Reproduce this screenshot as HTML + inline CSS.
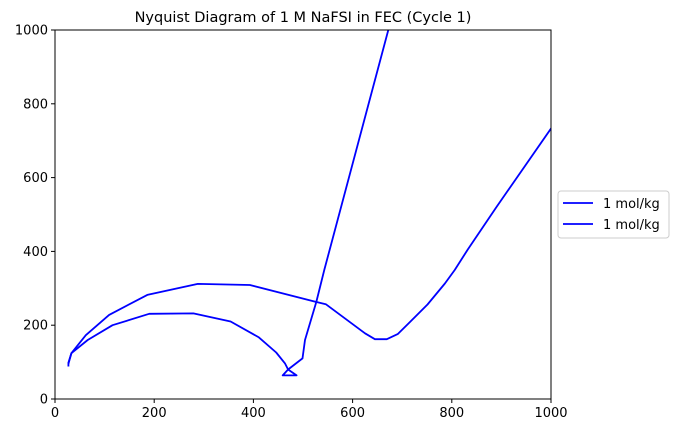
<!DOCTYPE html>
<html><head><meta charset="utf-8"><style>
body{margin:0;background:#fff;}
svg text{font-family:"DejaVu Sans","Liberation Sans",sans-serif;}
</style></head><body>
<svg id="chart" width="678" height="433" viewBox="0 0 678 433">
<defs><clipPath id="clip"><rect x="55" y="30" width="496" height="369"/></clipPath></defs>
<rect x="0" y="0" width="678" height="433" fill="#fff"/>
<text x="303" y="22" font-size="14.5" text-anchor="middle">Nyquist Diagram of 1 M NaFSI in FEC (Cycle 1)</text>
<g id="series" clip-path="url(#clip)"></g>
<g id="axes"></g>
<g>
<rect x="558" y="191" width="111" height="47" rx="3" fill="#fff" stroke="#ccc"/>
<line x1="563" y1="203" x2="593" y2="203" stroke="#0000ff" stroke-width="1.8"/>
<text x="603" y="208" font-size="13">1 mol/kg</text>
<line x1="563" y1="224" x2="593" y2="224" stroke="#0000ff" stroke-width="1.8"/>
<text x="603" y="229" font-size="13">1 mol/kg</text>
</g>
</svg>
<script>
const s1Re=[27,27,33,66,116,190,279,354,411,446,464,470,459,487,470,499,504,527,543,672,700];
const s1Im=[88,98,124,160,200,231,232,210,167,126,96,80,64,64,80,110,160,264,350,1000,1140];
const s2Re=[27,33,62,109,186,288,393,524,546,625,645,669,691,716,751,786,806,832,890,1000,1100];
const s2Im=[95,124,173,228,282,312,309,264,257,178,162,162,176,209,256,313,350,405,520,733,930];
const xTicks=[0,200,400,600,800,1000];
const yTicks=[0,200,400,600,800,1000];
const X0=55,X1=551,Y0=399,Y1=30;
function sx(v){return X0+(v-0)/(1000-0)*(X1-X0);}
function sy(v){return Y0-(v-0)/(1000-0)*(Y0-Y1);}
const NS="http://www.w3.org/2000/svg";
const g=document.getElementById('series');
function poly(re,im,name){
  const p=document.createElementNS(NS,'polyline');
  p.setAttribute('points',re.map((r,i)=>sx(r).toFixed(1)+','+sy(im[i]).toFixed(1)).join(' '));
  p.setAttribute('fill','none');p.setAttribute('stroke','#0000ff');p.setAttribute('stroke-width','1.8');
  p.setAttribute('stroke-linejoin','round');
  
  
  g.appendChild(p);
}
poly(s1Re,s1Im,'series-1-line');
poly(s2Re,s2Im,'series-2-line');
const ax=document.getElementById('axes');
const fr=document.createElementNS(NS,'rect');
fr.setAttribute('x',X0);fr.setAttribute('y',Y1);fr.setAttribute('width',X1-X0);fr.setAttribute('height',Y0-Y1);
fr.setAttribute('fill','none');fr.setAttribute('stroke','#000');fr.setAttribute('stroke-width','1');


ax.appendChild(fr);
xTicks.forEach(t=>{
  const l=document.createElementNS(NS,'line');
  l.setAttribute('x1',sx(t));l.setAttribute('x2',sx(t));l.setAttribute('y1',Y0);l.setAttribute('y2',Y0+4);l.setAttribute('stroke','#000');
  
  
  ax.appendChild(l);
  const tx=document.createElementNS(NS,'text');
  tx.setAttribute('x',sx(t));tx.setAttribute('y',Y0+18);tx.setAttribute('font-size','13');tx.setAttribute('text-anchor','middle');
  tx.textContent=t;
  
  
  ax.appendChild(tx);
});
yTicks.forEach(t=>{
  const l=document.createElementNS(NS,'line');
  l.setAttribute('x1',X0-4);l.setAttribute('x2',X0);l.setAttribute('y1',sy(t));l.setAttribute('y2',sy(t));l.setAttribute('stroke','#000');
  
  
  ax.appendChild(l);
  const tx=document.createElementNS(NS,'text');
  tx.setAttribute('x',X0-7);tx.setAttribute('y',sy(t)+4.5);tx.setAttribute('font-size','13');tx.setAttribute('text-anchor','end');
  tx.textContent=t;
  
  
  ax.appendChild(tx);
});
</script>
</body></html>
